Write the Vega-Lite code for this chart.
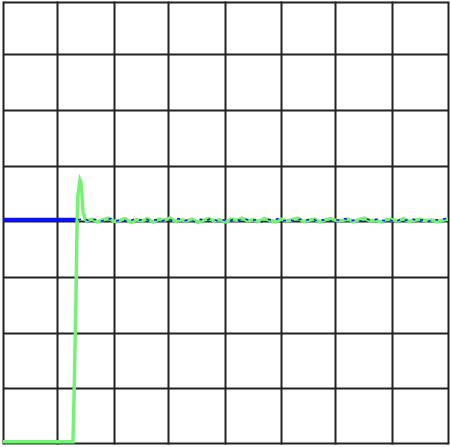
{
  "$schema": "https://vega.github.io/schema/vega-lite/v6.json",
  "width": 445,
  "height": 443,
  "autosize": "none",
  "padding": {"left": 3, "top": 1, "right": 2, "bottom": 3},
  "background": "white",
  "config": {"view": {"stroke": null}},
  "datasets": {
    "blueRef": [
      {"t": 0, "v": 0.05},
      {"t": 1.35, "v": 0.05}
    ],
    "green": [
      {"t": 0, "v": -3.96}, {"t": 1.258, "v": -3.96}, {"t": 1.276, "v": -3.2}, {"t": 1.312, "v": -1.4},
      {"t": 1.33, "v": -0.13}, {"t": 1.348, "v": 0.5}, {"t": 1.384, "v": 0.77}, {"t": 1.402, "v": 0.73},
      {"t": 1.42, "v": 0.5}, {"t": 1.438, "v": 0.19}, {"t": 1.474, "v": 0.07},
      {"t": 1.5, "v": 0.03}, {"t": 1.6, "v": 0.06}, {"t": 1.7, "v": 0.01}, {"t": 1.8, "v": 0.05},
      {"t": 1.9, "v": 0.08}, {"t": 2.0, "v": 0.02}, {"t": 2.1, "v": 0.04}, {"t": 2.2, "v": 0.07},
      {"t": 2.3, "v": 0.0}, {"t": 2.4, "v": 0.05}, {"t": 2.5, "v": 0.03}, {"t": 2.6, "v": 0.07},
      {"t": 2.7, "v": 0.01}, {"t": 2.8, "v": 0.06}, {"t": 2.9, "v": 0.04}, {"t": 3.0, "v": 0.08},
      {"t": 3.1, "v": 0.02}, {"t": 3.2, "v": 0.05}, {"t": 3.3, "v": 0.03}, {"t": 3.4, "v": 0.06},
      {"t": 3.5, "v": 0.0}, {"t": 3.6, "v": 0.04}, {"t": 3.7, "v": 0.07}, {"t": 3.8, "v": 0.03},
      {"t": 3.9, "v": 0.05}, {"t": 4.0, "v": 0.01}, {"t": 4.1, "v": 0.06}, {"t": 4.2, "v": 0.04},
      {"t": 4.3, "v": 0.08}, {"t": 4.4, "v": 0.03}, {"t": 4.5, "v": 0.05}, {"t": 4.6, "v": 0.02},
      {"t": 4.7, "v": 0.07}, {"t": 4.8, "v": 0.04}, {"t": 4.9, "v": 0.01}, {"t": 5.0, "v": 0.06},
      {"t": 5.1, "v": 0.03}, {"t": 5.2, "v": 0.05}, {"t": 5.3, "v": 0.08}, {"t": 5.4, "v": 0.02},
      {"t": 5.5, "v": 0.04}, {"t": 5.6, "v": 0.06}, {"t": 5.7, "v": 0.01}, {"t": 5.8, "v": 0.05},
      {"t": 5.9, "v": 0.07}, {"t": 6.0, "v": 0.03}, {"t": 6.1, "v": 0.04}, {"t": 6.2, "v": 0.06},
      {"t": 6.3, "v": 0.02}, {"t": 6.4, "v": 0.05}, {"t": 6.5, "v": 0.08}, {"t": 6.6, "v": 0.03},
      {"t": 6.7, "v": 0.04}, {"t": 6.8, "v": 0.01}, {"t": 6.9, "v": 0.06}, {"t": 7.0, "v": 0.05},
      {"t": 7.1, "v": 0.03}, {"t": 7.2, "v": 0.07}, {"t": 7.3, "v": 0.02}, {"t": 7.4, "v": 0.04},
      {"t": 7.5, "v": 0.06}, {"t": 7.6, "v": 0.03}, {"t": 7.7, "v": 0.05}, {"t": 7.8, "v": 0.01},
      {"t": 7.9, "v": 0.04}, {"t": 8.0, "v": 0.06}
    ],
    "blueNoise": [
      {"t": 1.35, "v": 0.05}, {"t": 1.45, "v": 0.07}, {"t": 1.55, "v": 0.03}, {"t": 1.65, "v": 0.06},
      {"t": 1.75, "v": 0.02}, {"t": 1.85, "v": 0.05}, {"t": 1.95, "v": 0.07}, {"t": 2.05, "v": 0.03},
      {"t": 2.15, "v": 0.05}, {"t": 2.25, "v": 0.01}, {"t": 2.35, "v": 0.06}, {"t": 2.45, "v": 0.04},
      {"t": 2.55, "v": 0.07}, {"t": 2.65, "v": 0.03}, {"t": 2.75, "v": 0.05}, {"t": 2.85, "v": 0.02},
      {"t": 2.95, "v": 0.06}, {"t": 3.05, "v": 0.04}, {"t": 3.15, "v": 0.07}, {"t": 3.25, "v": 0.03},
      {"t": 3.35, "v": 0.05}, {"t": 3.45, "v": 0.01}, {"t": 3.55, "v": 0.06}, {"t": 3.65, "v": 0.04},
      {"t": 3.75, "v": 0.07}, {"t": 3.85, "v": 0.03}, {"t": 3.95, "v": 0.05}, {"t": 4.05, "v": 0.02},
      {"t": 4.15, "v": 0.06}, {"t": 4.25, "v": 0.04}, {"t": 4.35, "v": 0.07}, {"t": 4.45, "v": 0.03},
      {"t": 4.55, "v": 0.05}, {"t": 4.65, "v": 0.01}, {"t": 4.75, "v": 0.06}, {"t": 4.85, "v": 0.04},
      {"t": 4.95, "v": 0.07}, {"t": 5.05, "v": 0.03}, {"t": 5.15, "v": 0.05}, {"t": 5.25, "v": 0.02},
      {"t": 5.35, "v": 0.06}, {"t": 5.45, "v": 0.04}, {"t": 5.55, "v": 0.07}, {"t": 5.65, "v": 0.03},
      {"t": 5.75, "v": 0.05}, {"t": 5.85, "v": 0.01}, {"t": 5.95, "v": 0.06}, {"t": 6.05, "v": 0.04},
      {"t": 6.15, "v": 0.07}, {"t": 6.25, "v": 0.03}, {"t": 6.35, "v": 0.05}, {"t": 6.45, "v": 0.02},
      {"t": 6.55, "v": 0.06}, {"t": 6.65, "v": 0.04}, {"t": 6.75, "v": 0.07}, {"t": 6.85, "v": 0.03},
      {"t": 6.95, "v": 0.05}, {"t": 7.05, "v": 0.01}, {"t": 7.15, "v": 0.06}, {"t": 7.25, "v": 0.04},
      {"t": 7.35, "v": 0.07}, {"t": 7.45, "v": 0.03}, {"t": 7.55, "v": 0.05}, {"t": 7.65, "v": 0.02},
      {"t": 7.75, "v": 0.06}, {"t": 7.85, "v": 0.04}, {"t": 7.95, "v": 0.07}, {"t": 8.0, "v": 0.05}
    ]
  },
  "encoding": {
    "x": {"field": "t", "type": "quantitative", "scale": {"domain": [0, 8], "nice": false, "zero": false},
      "axis": {"values": [0, 0.971, 1.995, 2.966, 3.991, 4.998, 5.969, 6.993, 8], "grid": true, "gridColor": "#222222", "gridWidth": 2, "gridOpacity": 1,
        "labels": false, "ticks": false, "domain": false, "title": null}},
    "y": {"field": "v", "type": "quantitative", "scale": {"domain": [-4, 4], "nice": false, "zero": false},
      "axis": {"values": [-3.982, -2.989, -1.995, -0.984, 0.027, 1.02, 2.032, 3.043, 3.982], "grid": true, "gridColor": "#222222", "gridWidth": 2, "gridOpacity": 1,
        "labels": false, "ticks": false, "domain": false, "title": null}}
  },
  "layer": [
    {"data": {"name": "blueRef"}, "mark": {"type": "line", "color": "#0a14ee", "strokeWidth": 4, "clip": true}},
    {"data": {"name": "green"}, "mark": {"type": "line", "color": "#74f274", "strokeWidth": 3.5, "clip": true}},
    {"data": {"name": "blueNoise"}, "mark": {"type": "line", "color": "#0a14ee", "strokeWidth": 1.5, "strokeDash": [3, 5], "clip": true}}
  ]
}
